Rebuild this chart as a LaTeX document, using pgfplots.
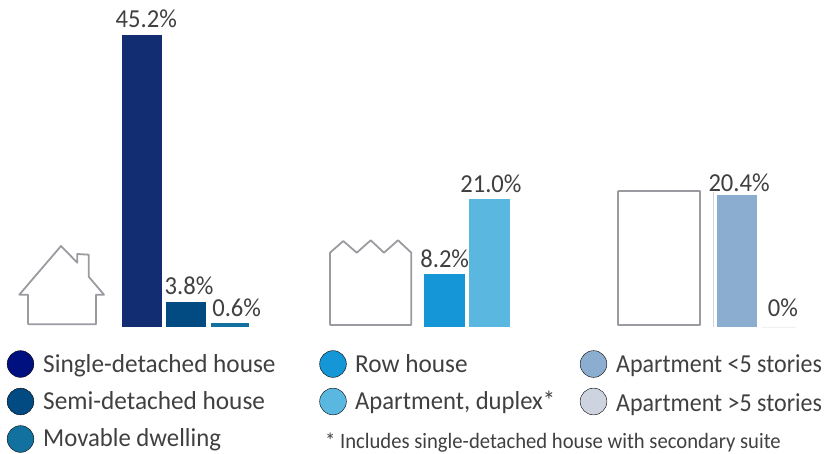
\documentclass[border=0pt]{standalone}
\usepackage{fontspec}
\setmainfont{Carlito}
\usepackage{pgfplots}
\pgfplotsset{compat=1.18}

\definecolor{cSingleBar}{HTML}{132D73}
\definecolor{cSingle}{HTML}{00107F}
\definecolor{cSemi}{HTML}{024A82}
\definecolor{cMovable}{HTML}{13719F}
\definecolor{cRow}{HTML}{1596D6}
\definecolor{cDuplex}{HTML}{59B7E0}
\definecolor{cAptLow}{HTML}{8BADD0}
\definecolor{cAptHigh}{HTML}{CDD4DF}
\definecolor{cIcon}{HTML}{9A9BA0}
\definecolor{cText}{HTML}{404040}

\newcommand{\lbl}{\fontsize{26}{26}\selectfont}
\newcommand{\leg}{\fontsize{26}{26}\selectfont}

\pgfplotsset{
  page/.style={hide axis, scale only axis, width=825bp, height=454bp,
    xmin=0, xmax=825, clip=false},
  barval/.style={ybar, bar width=#1, bar shift=0pt, point meta=explicit symbolic,
    nodes near coords,
    every node near coord/.append style={font=\lbl, text=cText, inner sep=0pt, anchor=south, xscale=0.95}},
  nudge/.style 2 args={every node near coord/.append style={xshift=#1, yshift=#2}},
  icon/.style={cIcon, line width=1.8pt, no markers, line join=round},
  dot/.style={only marks, mark=*, mark size=13.4pt, mark options={draw=none, fill=#1}},
}

\begin{document}
\begin{tikzpicture}
\useasboundingbox (0,0) rectangle (825bp,454bp);
% bars, y in percent (6.46 px per unit, baseline at y=327 px)
\begin{axis}[page, ymin=-19.66, ymax=50.62]
  \addplot[barval=40bp, nudge={5bp}{7bp}, fill=cSingleBar, draw=none] coordinates {(141.5,45.2)[45.2\%]};
  \addplot[barval=40bp, nudge={3bp}{8bp}, fill=cSemi, draw=none] coordinates {(186.2,3.8)[3.8\%]};
  \addplot[barval=38bp, nudge={7bp}{6bp}, fill=cMovable, draw=none] coordinates {(230,0.6)[0.6\%]};
  \addplot[barval=40.5bp, nudge={0bp}{6bp}, fill=cRow, draw=none] coordinates {(444.7,8.2)[8.2\%]};
  % drawn shorter than its label says in the original
  \addplot[barval=41bp, nudge={1.5bp}{6bp}, fill=cDuplex, draw=none] coordinates {(489.5,19.8)[21.0\%]};
  \addplot[barval=40.5bp, nudge={2bp}{3bp}, fill=cAptLow, draw=none] coordinates {(737.2,20.4)[20.4\%]};
  \addplot[barval=34bp, nudge={4bp}{10bp}, fill=cAptHigh!50, draw=cAptHigh!50, line width=0.5pt] coordinates {(779,0)[0\%]};
\end{axis}
% icons and legend, in pixels from the top left
\begin{axis}[page, ymin=0, ymax=454, y dir=reverse]
  \addplot[cAptHigh, line width=0.7pt, no markers] coordinates {(713.7,192) (713.7,327)};
  \addplot[icon] coordinates {(28,324.3) (28,294.7) (19.3,294.7) (61,246) (77.3,262.7) (77.3,254)
    (88.7,254.7) (88.7,276.7) (104,294.7) (96,294.7) (96,324.3) (28,324.3)};
  \addplot[icon] coordinates {(330,325) (330,252.7) (343.3,241) (356.7,252.7) (370.7,240.3)
    (384,252.7) (398,240.3) (411.3,252.7) (411.3,325) (330,325)};
  \addplot[icon] coordinates {(618.3,191) (700,191) (700,325) (618.3,325) (618.3,191)};

  \addplot[dot=cSingle] coordinates {(20.5,364)};
  \addplot[dot=cSemi] coordinates {(20.5,401.5)};
  \addplot[dot=cMovable] coordinates {(20.5,439)};
  \addplot[dot=cRow] coordinates {(333,364)};
  \addplot[dot=cDuplex] coordinates {(333,401.5)};
  \addplot[dot=cAptLow] coordinates {(593.5,364)};
  \addplot[dot=cAptHigh] coordinates {(593.5,401.5)};

  \tikzset{every node/.append style={text=cText, inner sep=0pt, anchor=base west}}
  \node[font=\leg, xscale=0.975] at (axis cs:43,372) {Single-detached house};
  \node[font=\leg, xscale=0.976] at (axis cs:43,409) {Semi-detached house};
  \node[font=\leg, xscale=0.955] at (axis cs:43,446) {Movable dwelling};
  \node[font=\leg, xscale=0.975] at (axis cs:355,372) {Row house};
  \node[font=\leg, xscale=0.952] at (axis cs:355,409) {Apartment, duplex*};
  \node[font=\leg, xscale=0.927] at (axis cs:616,372) {Apartment <5 stories};
  \node[font=\leg, xscale=0.927] at (axis cs:616,411) {Apartment >5 stories};
  \node[font=\fontsize{22}{22}\selectfont, xscale=0.942] at (axis cs:325,448) {* Includes single-detached house with secondary suite};
\end{axis}
\end{tikzpicture}
\end{document}
